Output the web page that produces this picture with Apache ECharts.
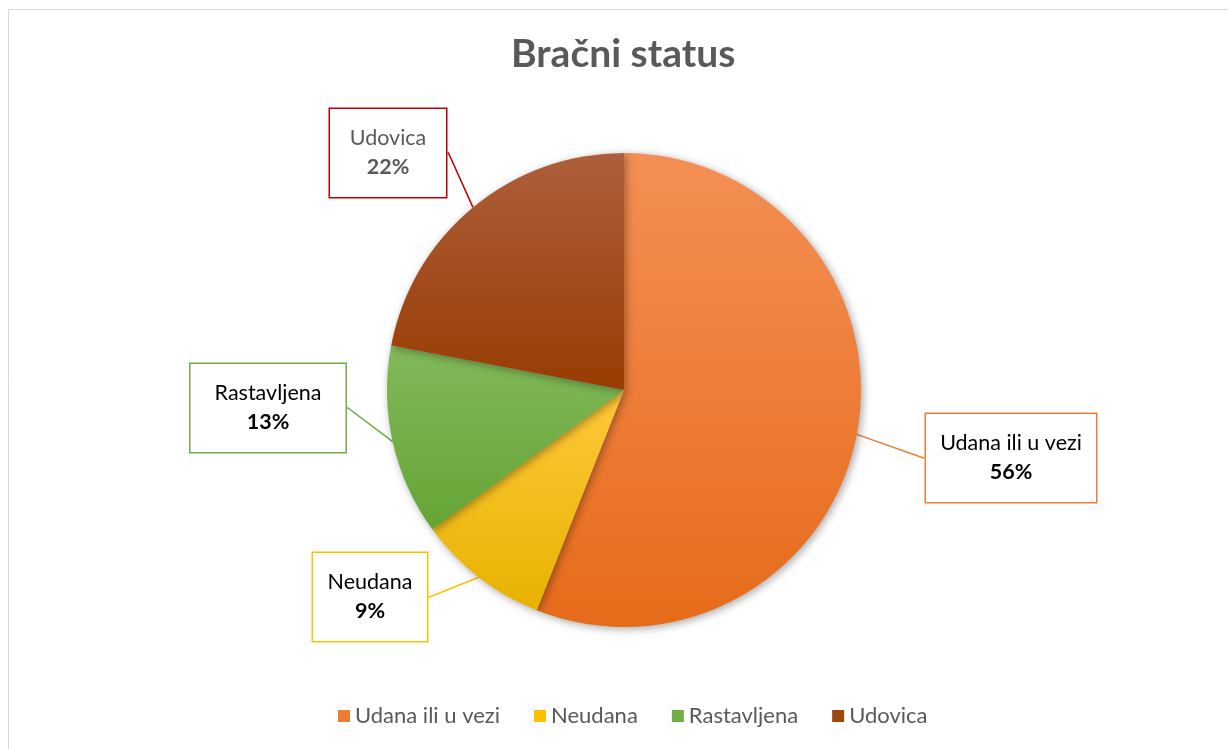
<!DOCTYPE html>
<html>
<head>
<meta charset="utf-8">
<script src="https://cdn.jsdelivr.net/npm/echarts@6/dist/echarts.min.js"></script>
<style>
  html, body { margin: 0; padding: 0; background: #fff; }
  #main { width: 1228px; height: 749px; }
</style>
</head>
<body>
<div id="main"></div>
<script>
var chartDom = document.getElementById('main');
var myChart = echarts.init(chartDom);

// data
var categories = ['Udana ili u vezi', 'Neudana', 'Rastavljena', 'Udovica'];
var values = [56, 9, 13, 22];

// styles
var topColors = ['#F48F55', '#FFC83A', '#82B95A', '#AD5F3C'];
var bottomColors = ['#E66B1A', '#E8B200', '#64A434', '#983C02'];
var legendColors = ['#ED7D31', '#FFC000', '#70AD47', '#9E480E'];
var boxColors = ['#ED7D31', '#FFC000', '#70AD47', '#C00000'];
var textColors = ['#000', '#000', '#000', '#595959'];
// callout box centres
var boxPos = [[1011, 458], [370, 597], [268, 408], [388, 153]];
var boxW = [170, 114, 155, 116];

var seriesData = categories.map(function (name, i) {
    return {
        name: name,
        value: values[i],
        itemStyle: {
            color: new echarts.graphic.LinearGradient(0, 0, 0, 1, [
                { offset: 0, color: topColors[i] },
                { offset: 1, color: bottomColors[i] }
            ])
        },
        label: {
            borderColor: boxColors[i],
            color: textColors[i],
            width: boxW[i],
            rich: { b: { color: textColors[i] } }
        },
        labelLine: { lineStyle: { color: boxColors[i] } }
    };
});

var option = {
    backgroundColor: '#fff',
    color: legendColors,
    title: {
        text: 'Bračni status',
        left: 506,
        top: 30,
        textStyle: {
            fontFamily: 'Lato',
            fontWeight: 'bold',
            fontSize: 39,
            color: '#595959'
        }
    },
    legend: {
        bottom: 17,
        left: 333,
        itemWidth: 12,
        itemHeight: 12,
        itemGap: 34,
        icon: 'rect',
        textStyle: { fontFamily: 'Lato', fontSize: 22, color: '#595959' },
        data: categories.map(function (c, i) {
            return { name: c, itemStyle: { color: legendColors[i] } };
        })
    },
    graphic: [{
        type: 'rect',
        shape: { x: 8.5, y: 9.5, width: 1240, height: 760 },
        style: { fill: 'none', stroke: '#D9D9D9', lineWidth: 1 },
        silent: true
    }],
    series: [{
        type: 'pie',
        center: [624, 390],
        radius: 237,
        startAngle: 90,
        clockwise: true,
        animation: false,
        itemStyle: {
            shadowBlur: 8,
            shadowColor: 'rgba(0,0,0,0.35)',
            shadowOffsetX: 2,
            shadowOffsetY: 2
        },
        label: {
            show: true,
            position: 'outside',
            formatter: '{b}\n{b|{d}%}',
            fontFamily: 'Lato',
            fontSize: 21.5,
            lineHeight: 29,
            align: 'center',
            backgroundColor: '#fff',
            borderWidth: 1.5,
            padding: [15, 0, 15, 0],
            rich: {
                b: { fontWeight: 'bold', fontSize: 21.5, lineHeight: 29, align: 'center' }
            }
        },
        labelLine: {
            show: true,
            length: 1,
            length2: 1,
            lineStyle: { width: 1.5 }
        },
        labelLayout: function (params) {
            var p = boxPos[params.dataIndex];
            return {
                x: p[0],
                y: p[1],
                align: 'center',
                verticalAlign: 'middle'
            };
        },
        data: seriesData
    }]
};

myChart.setOption(option);
</script>
</body>
</html>
